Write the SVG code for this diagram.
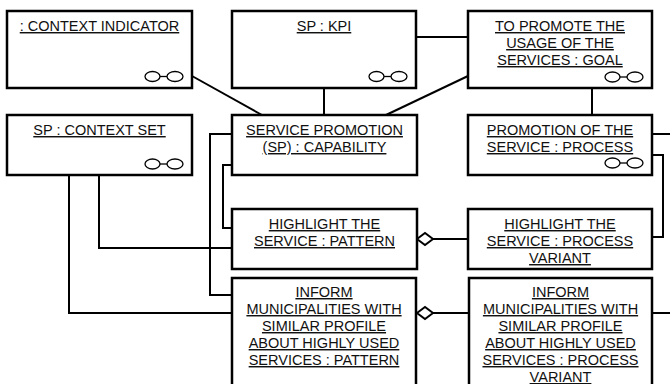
<svg xmlns="http://www.w3.org/2000/svg" width="670" height="384" viewBox="0 0 670 384">
  <defs>
    <style>
      .box { fill: #fff; stroke: #000; stroke-width: 2.5; }
      .lbl { font-family: "Liberation Sans", Arial, sans-serif; font-size: 14.5px; fill: #111; text-anchor: middle; text-decoration: underline; }
      .wire { fill: none; stroke: #000; stroke-width: 2; }
      .agg { fill: #fff; stroke: #000; stroke-width: 2; }
      .icon { fill: #fff; stroke: #000; stroke-width: 1.3; }
    </style>
    <!-- two linked ovals, anchored at the box's bottom-right corner -->
    <g id="ovals">
      <line class="icon" x1="-32" y1="0" x2="-24.5" y2="0"/>
      <ellipse class="icon" cx="-39.5" cy="0" rx="7.5" ry="5"/>
      <ellipse class="icon" cx="-17" cy="0" rx="8" ry="5"/>
    </g>
  </defs>

  <g id="connectors">
    <polyline class="wire" points="192,76 262,115"/>
    <polyline class="wire" points="324,88 324,115"/>
    <polyline class="wire" points="468,76 386,115"/>
    <polyline class="wire" points="416,37 468,37"/>
    <polyline class="wire" points="592,88 592,115"/>
    <polyline class="wire" points="652,134 670,134"/>
    <polyline class="wire" points="652,155 663,155 663,237 652,237"/>
    <polyline class="wire" points="433,239 468,239"/>
    <polyline class="wire" points="433,313 469,313"/>
    <polyline class="wire" points="652,313 670,313"/>
    <polyline class="wire" points="232,134 210,134 210,295 232,295"/>
    <polyline class="wire" points="232,165 223,165 223,228 232,228"/>
    <polyline class="wire" points="99,175 99,248 232,248"/>
    <polyline class="wire" points="69,175 69,313 232,313"/>
    <polygon class="agg" points="417,239 425,233 433,239 425,245"/>
    <polygon class="agg" points="417,313 425,307 433,313 425,319"/>
  </g>

  <g id="context-indicator">
    <rect class="box" x="7" y="11" width="185" height="77"/>
    <text class="lbl" x="99.5" y="31">: CONTEXT INDICATOR</text>
    <use href="#ovals" x="192" y="76.5"/>
  </g>

  <g id="sp-kpi">
    <rect class="box" x="232" y="11" width="184" height="77"/>
    <text class="lbl" x="324" y="31">SP : KPI</text>
    <use href="#ovals" x="416" y="76.5"/>
  </g>

  <g id="goal">
    <rect class="box" x="468" y="11" width="184" height="77"/>
    <text class="lbl" x="560" y="31">TO PROMOTE THE</text>
    <text class="lbl" x="560" y="48">USAGE OF THE</text>
    <text class="lbl" x="560" y="65">SERVICES : GOAL</text>
    <use href="#ovals" x="652" y="77"/>
  </g>

  <g id="context-set">
    <rect class="box" x="7" y="115" width="185" height="60"/>
    <text class="lbl" x="99.5" y="135">SP : CONTEXT SET</text>
    <use href="#ovals" x="192" y="164"/>
  </g>

  <g id="capability">
    <rect class="box" x="232" y="115" width="185" height="60"/>
    <text class="lbl" x="324.5" y="135">SERVICE PROMOTION</text>
    <text class="lbl" x="324.5" y="152">(SP) : CAPABILITY</text>
  </g>

  <g id="process">
    <rect class="box" x="468" y="115" width="184" height="60"/>
    <text class="lbl" x="560" y="135">PROMOTION OF THE</text>
    <text class="lbl" x="560" y="152">SERVICE : PROCESS</text>
    <use href="#ovals" x="652" y="163"/>
  </g>

  <g id="highlight-pattern">
    <rect class="box" x="232" y="209" width="185" height="60"/>
    <text class="lbl" x="324.5" y="229">HIGHLIGHT THE</text>
    <text class="lbl" x="324.5" y="246">SERVICE : PATTERN</text>
  </g>

  <g id="highlight-variant">
    <rect class="box" x="468" y="209" width="184" height="60"/>
    <text class="lbl" x="560" y="229">HIGHLIGHT THE</text>
    <text class="lbl" x="560" y="246">SERVICE : PROCESS</text>
    <text class="lbl" x="560" y="263">VARIANT</text>
  </g>

  <g id="inform-pattern">
    <rect class="box" x="232" y="278" width="184" height="130"/>
    <text class="lbl" x="324" y="297">INFORM</text>
    <text class="lbl" x="324" y="314">MUNICIPALITIES WITH</text>
    <text class="lbl" x="324" y="331">SIMILAR PROFILE</text>
    <text class="lbl" x="324" y="348">ABOUT HIGHLY USED</text>
    <text class="lbl" x="324" y="365">SERVICES : PATTERN</text>
  </g>

  <g id="inform-variant">
    <rect class="box" x="469" y="278" width="183" height="130"/>
    <text class="lbl" x="560.5" y="297">INFORM</text>
    <text class="lbl" x="560.5" y="314">MUNICIPALITIES WITH</text>
    <text class="lbl" x="560.5" y="331">SIMILAR PROFILE</text>
    <text class="lbl" x="560.5" y="348">ABOUT HIGHLY USED</text>
    <text class="lbl" x="560.5" y="365">SERVICES : PROCESS</text>
    <text class="lbl" x="560.5" y="382">VARIANT</text>
  </g>
</svg>
